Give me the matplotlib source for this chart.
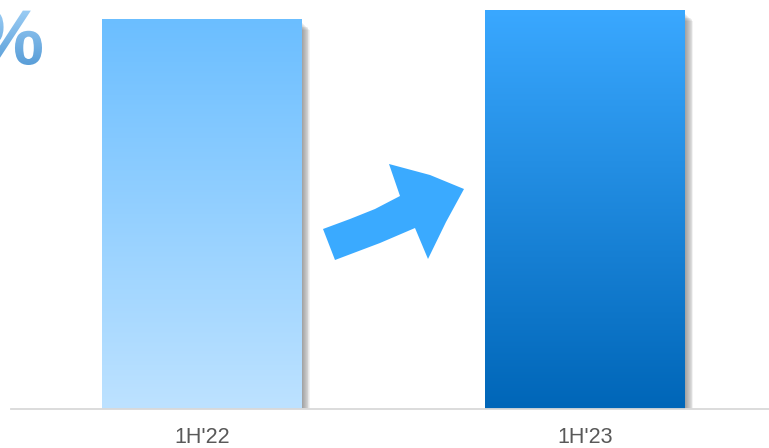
import numpy as np
import matplotlib
matplotlib.use("Agg")
import matplotlib.pyplot as plt
from matplotlib.patches import Polygon, Rectangle, PathPatch
from matplotlib.colors import LinearSegmentedColormap
from matplotlib.textpath import TextPath
from matplotlib.font_manager import FontProperties
from matplotlib.transforms import Affine2D

plt.rcParams['font.family'] = ['Liberation Sans', 'DejaVu Sans']

# Data
periods = ["1H'22", "1H'23"]
values = [39.0, 39.9]
top_colors = ["#6BBEFF", "#3AA8FF"]
bottom_colors = ["#BDE2FF", "#0066B8"]

W, H = 769, 448
fig = plt.figure(figsize=(W / 100, H / 100), dpi=100)
ax = fig.add_axes([11 / W, (H - 409) / H, (W - 11) / W, 409 / H])

XL = (-0.4987, 1.480)
YL = (0, 40.9)
ax.set_xlim(*XL)
ax.set_ylim(*YL)
bar_w = 0.522
bars = ax.bar(range(len(periods)), values, width=bar_w, color="none", zorder=3)

# px -> data conversions for the shadow
px_x = (XL[1] - XL[0]) / (W - 11)
px_y = (YL[1] - YL[0]) / 409

for rect, ctop, cbot in zip(bars, top_colors, bottom_colors):
    x0, y0 = rect.get_x(), rect.get_y()
    w, h = rect.get_width(), rect.get_height()
    # soft drop shadow on the right / bottom
    for i in range(9):
        sh = Rectangle((x0 + (1 + i * 0.9) * px_x, y0 + 1 * px_y - i * 0.1 * px_y),
                       w, h - (5 + i * 0.8) * px_y, facecolor="#303030", alpha=0.06,
                       edgecolor="none", zorder=2, clip_on=False)
        ax.add_patch(sh)
    cmap = LinearSegmentedColormap.from_list("g", [cbot, ctop])
    grad = np.linspace(0, 1, 256).reshape(-1, 1)
    im = ax.imshow(grad, cmap=cmap, aspect="auto", origin="lower",
                   extent=(x0, x0 + w, y0, y0 + h), zorder=3, interpolation="bilinear")
    im.set_clip_path(rect)

ax.set_xlim(*XL)
ax.set_ylim(*YL)

for s in ["top", "right", "left"]:
    ax.spines[s].set_visible(False)
ax.spines["bottom"].set_color("#D9D9D9")
ax.spines["bottom"].set_linewidth(1.3)
ax.spines["bottom"].set_zorder(4)
ax.set_yticks([])
ax.set_xticks(range(len(periods)))
ax.set_xticklabels(periods, fontsize=15.5, color="#595959")
ax.tick_params(axis="x", length=0, pad=13)

# hand-drawn style arrow between the bars (figure pixel coordinates)
arrow_px = [(323, 229), (350, 219), (375, 209), (400, 196), (389, 164),
            (430, 175), (464, 189), (446, 222), (428, 259), (415, 228),
            (380, 243), (335, 260)]
arrow = Polygon([(x / W, 1 - y / H) for x, y in arrow_px], closed=True,
                facecolor="#3AAAFF", edgecolor="none", transform=fig.transFigure,
                zorder=5)
fig.add_artist(arrow)

# large gradient percent sign, partly off the left edge
fp = FontProperties(family="Liberation Sans", weight="bold")
tp = TextPath((0, 0), "%", size=72, prop=fp)
bb = tp.get_extents()
scale_h = 55 / bb.height
tr = (Affine2D().translate(-bb.x0, -bb.y0).scale(scale_h)
      .translate(42 - bb.width * scale_h, H - 65))
path_px = tr.transform_path(tp)
pax = fig.add_axes([0, 0, 1, 1], zorder=6)
pax.set_axis_off()
pax.set_xlim(0, W)
pax.set_ylim(0, H)
pcm = LinearSegmentedColormap.from_list("p", ["#5A9ED8", "#9ACCF4"])
pim = pax.imshow(np.linspace(0, 1, 256).reshape(-1, 1), cmap=pcm, origin="lower",
                 aspect="auto", extent=(0, 45, H - 65, H - 10), interpolation="bilinear")
pct = PathPatch(path_px, transform=pax.transData, facecolor="none", edgecolor="none")
pax.add_patch(pct)
pim.set_clip_path(pct)

fig.savefig("out.png", dpi=100)
